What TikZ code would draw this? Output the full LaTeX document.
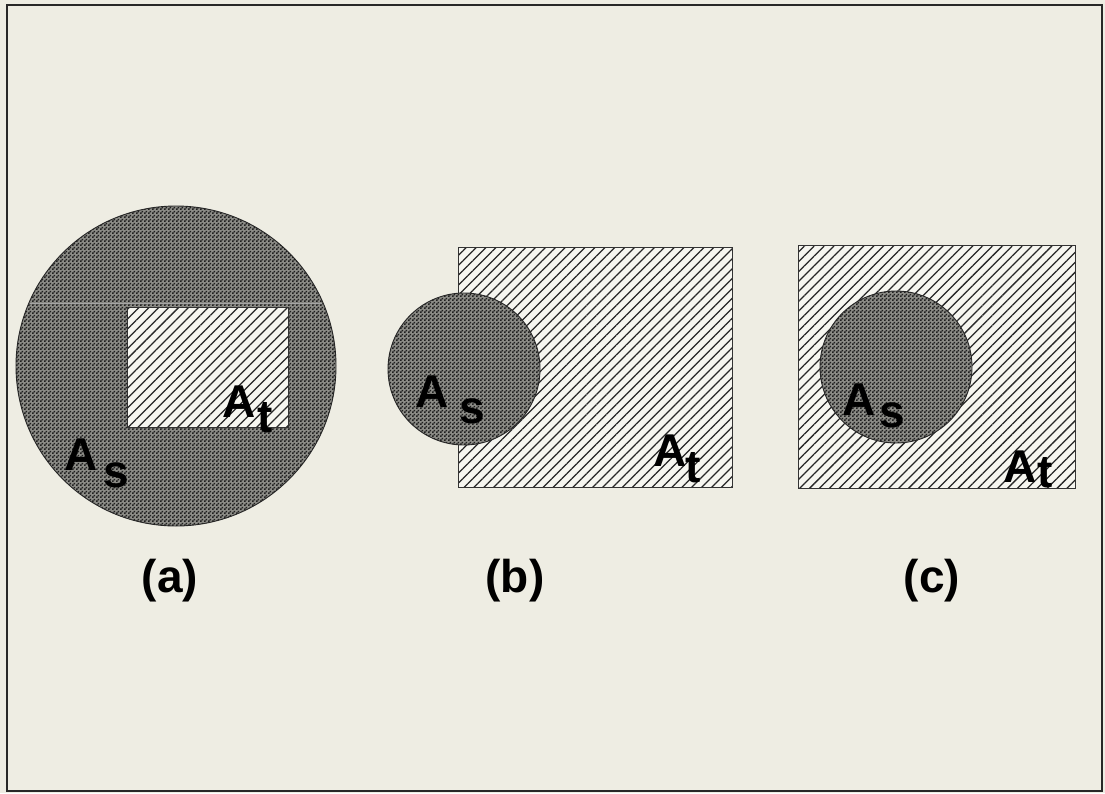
\documentclass[tikz,border=0pt]{standalone}
\usepackage{fontspec}
\setmainfont{Liberation Sans}
\usetikzlibrary{patterns.meta}
\definecolor{paper}{RGB}{238,237,227}
\definecolor{framec}{RGB}{40,40,40}
\definecolor{dotlight}{RGB}{140,140,135}
\definecolor{hatchbg}{RGB}{246,246,240}
\tikzdeclarepattern{
  name=checker,
  type=uncolored,
  bottom left={(0pt,0pt)},
  top right={(4pt,4pt)},
  tile size={(4pt,4pt)},
  code={\pgfpathrectangle{\pgfpoint{0pt}{0pt}}{\pgfpoint{2pt}{2pt}}\pgfpathrectangle{\pgfpoint{2pt}{2pt}}{\pgfpoint{2pt}{2pt}}\pgfusepath{fill}}
}
\tikzset{
  frame/.style={draw=framec,line width=2.6pt},
  srcdisc/.style={preaction={fill=dotlight},pattern=checker,pattern color=black!88,draw=black!85,line width=0.9pt},
  tgtrect/.style={preaction={fill=hatchbg},pattern={Lines[angle=45,distance=7pt,line width=1.25pt]},pattern color=black!85,draw=black!80,line width=0.9pt},
  lbl/.style={inner sep=0pt,anchor=base west,font=\fontsize{46}{46}\selectfont\bfseries},
  caplabel/.style={inner sep=0pt,font=\fontsize{46}{46}\selectfont\bfseries}
}
\begin{document}
\begin{tikzpicture}[x=1pt,y=-1pt]
\useasboundingbox (0,0) rectangle (1105,793);
\fill[paper] (0,0) rectangle (1105,793);
\draw[frame] (7,5) rectangle (1102,791);
% (a)
\path[srcdisc] (176,366) circle (160);
\begin{scope}
\clip (176,366) circle (159);
\draw[black!35,line width=0.8pt] (10,303) -- (330,303);
\end{scope}
\path[tgtrect] (127,307) rectangle (288,427);
\node[lbl] (aAs) at (64,470) {A};
\node[lbl] (aAss) at (103,487) {s};
\node[lbl] (aAt) at (222,417) {A};
\node[lbl] (aAtt) at (257,432) {t};
\node[caplabel] (capa) at (170,581) {(a)};
% (b)
\path[tgtrect] (458,247) rectangle (732,487);
\path[srcdisc] (464,369) circle (76);
\node[lbl] (bAs) at (415,407) {A};
\node[lbl] (bAss) at (459,423) {s};
\node[lbl] (bAt) at (653,466) {A};
\node[lbl] (bAtt) at (685,482) {t};
\node[caplabel] (capb) at (515,581) {(b)};
% (c)
\path[tgtrect] (798,245) rectangle (1075,488);
\path[srcdisc] (896,367) circle (76);
\node[lbl] (cAs) at (842,415) {A};
\node[lbl] (cAss) at (879,427) {s};
\node[lbl] (cAt) at (1003,482) {A};
\node[lbl] (cAtt) at (1037,487) {t};
\node[caplabel] (capc) at (932,581) {(c)};
\end{tikzpicture}
\end{document}
